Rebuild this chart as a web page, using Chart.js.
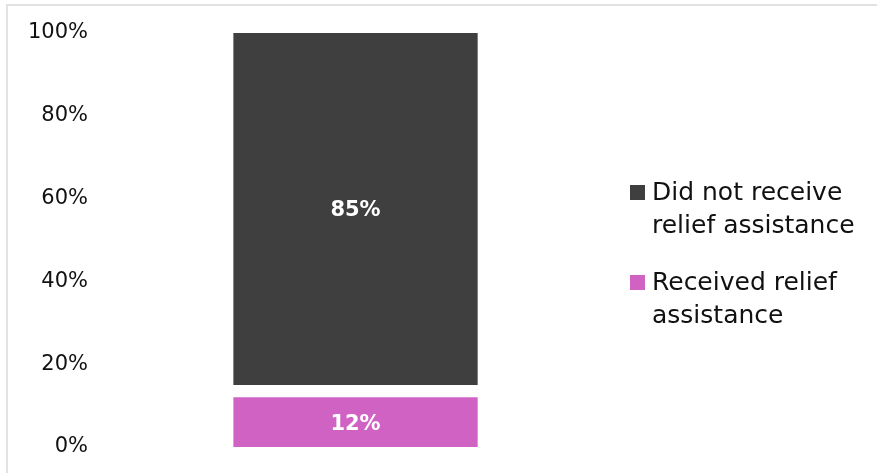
<!DOCTYPE html>
<html>
<head>
<meta charset="utf-8">
<script src="https://cdn.jsdelivr.net/npm/chart.js@4"></script>
<style>
  body { margin: 0; background: #fff; }
  #wrap { position: relative; width: 877px; height: 473px; }
  #frame { position: absolute; left: 6px; top: 4px; right: 0; bottom: 0;
           border-top: 2px solid #e2e2e2; border-left: 2px solid #e2e2e2; }
  canvas { position: absolute; left: 0; top: 0; }
</style>
</head>
<body>
<div id="wrap">
  <div id="frame"></div>
  <canvas id="chart" width="877" height="473"></canvas>
</div>
<script>
// Datos
var categories = [''];
var received = [12];
var noAnswer = [3];      // hueco en blanco entre las dos barras
var notReceived = [85];
var seriesNames = ['Received relief assistance', 'Did not receive relief assistance'];
var legendLines = [['Did not receive', 'relief assistance'], ['Received relief', 'assistance']];
var yTicks = [0, 20, 40, 60, 80, 100];

var FONT = '"DejaVu Sans", sans-serif';
var colors = { received: '#cf62c3', notReceived: '#3f3f3f' };

// Etiquetas dentro de las barras
var labelPlugin = {
  id: 'barLabels',
  afterDatasetsDraw: function (chart) {
    var ctx = chart.ctx;
    ctx.save();
    ctx.fillStyle = '#ffffff';
    ctx.font = 'bold 21px ' + FONT;
    ctx.textAlign = 'center';
    ctx.textBaseline = 'middle';
    chart.data.datasets.forEach(function (ds, i) {
      if (!ds.showLabel) return;
      chart.getDatasetMeta(i).data.forEach(function (bar, j) {
        var mid = (bar.y + bar.base) / 2;
        ctx.fillText(ds.data[j] + '%', bar.x, mid + 2);
      });
    });
    ctx.restore();
  }
};

// Leyenda a la derecha con texto en dos lineas
var legendPlugin = {
  id: 'sideLegend',
  afterDraw: function (chart) {
    var ctx = chart.ctx;
    var items = [
      { color: colors.notReceived, lines: legendLines[0] },
      { color: colors.received, lines: legendLines[1] }
    ];
    var x = 630, y = 193;
    ctx.save();
    ctx.font = '25px ' + FONT;
    ctx.textBaseline = 'middle';
    items.forEach(function (it) {
      ctx.fillStyle = it.color;
      ctx.fillRect(x, y - 8, 15, 15);
      ctx.fillStyle = '#111';
      it.lines.forEach(function (line, k) {
        ctx.fillText(line, x + 22, y + k * 33);
      });
      y += 90;
    });
    ctx.restore();
  }
};

var ctx = document.getElementById('chart').getContext('2d');
var chart = new Chart(ctx, {
  type: 'bar',
  data: {
    labels: categories,
    datasets: [
      { label: seriesNames[0], data: received, backgroundColor: colors.received, showLabel: true },
      { label: 'blank', data: noAnswer, backgroundColor: 'rgba(0,0,0,0)' },
      { label: seriesNames[1], data: notReceived, backgroundColor: colors.notReceived, showLabel: true }
    ]
  },
  options: {
    responsive: false,
    animation: false,
    layout: { padding: { left: 18, right: 272, top: 33, bottom: 18 } },
    plugins: { legend: { display: false }, tooltip: { enabled: false } },
    datasets: { bar: { barPercentage: 0.96, categoryPercentage: 0.51 } },
    scales: {
      x: {
        stacked: true,
        grid: { display: false },
        border: { display: false },
        ticks: { display: false }
      },
      y: {
        stacked: true,
        min: 0,
        max: 100,
        grid: { display: false },
        border: { display: false },
        afterBuildTicks: function (axis) {
          axis.ticks = yTicks.map(function (v) { return { value: v }; });
        },
        ticks: {
          padding: 10,
          color: '#111',
          font: { family: FONT, size: 21 },
          callback: function (v) { return v + '%'; }
        }
      }
    }
  },
  plugins: [labelPlugin, legendPlugin]
});
</script>
</body>
</html>
